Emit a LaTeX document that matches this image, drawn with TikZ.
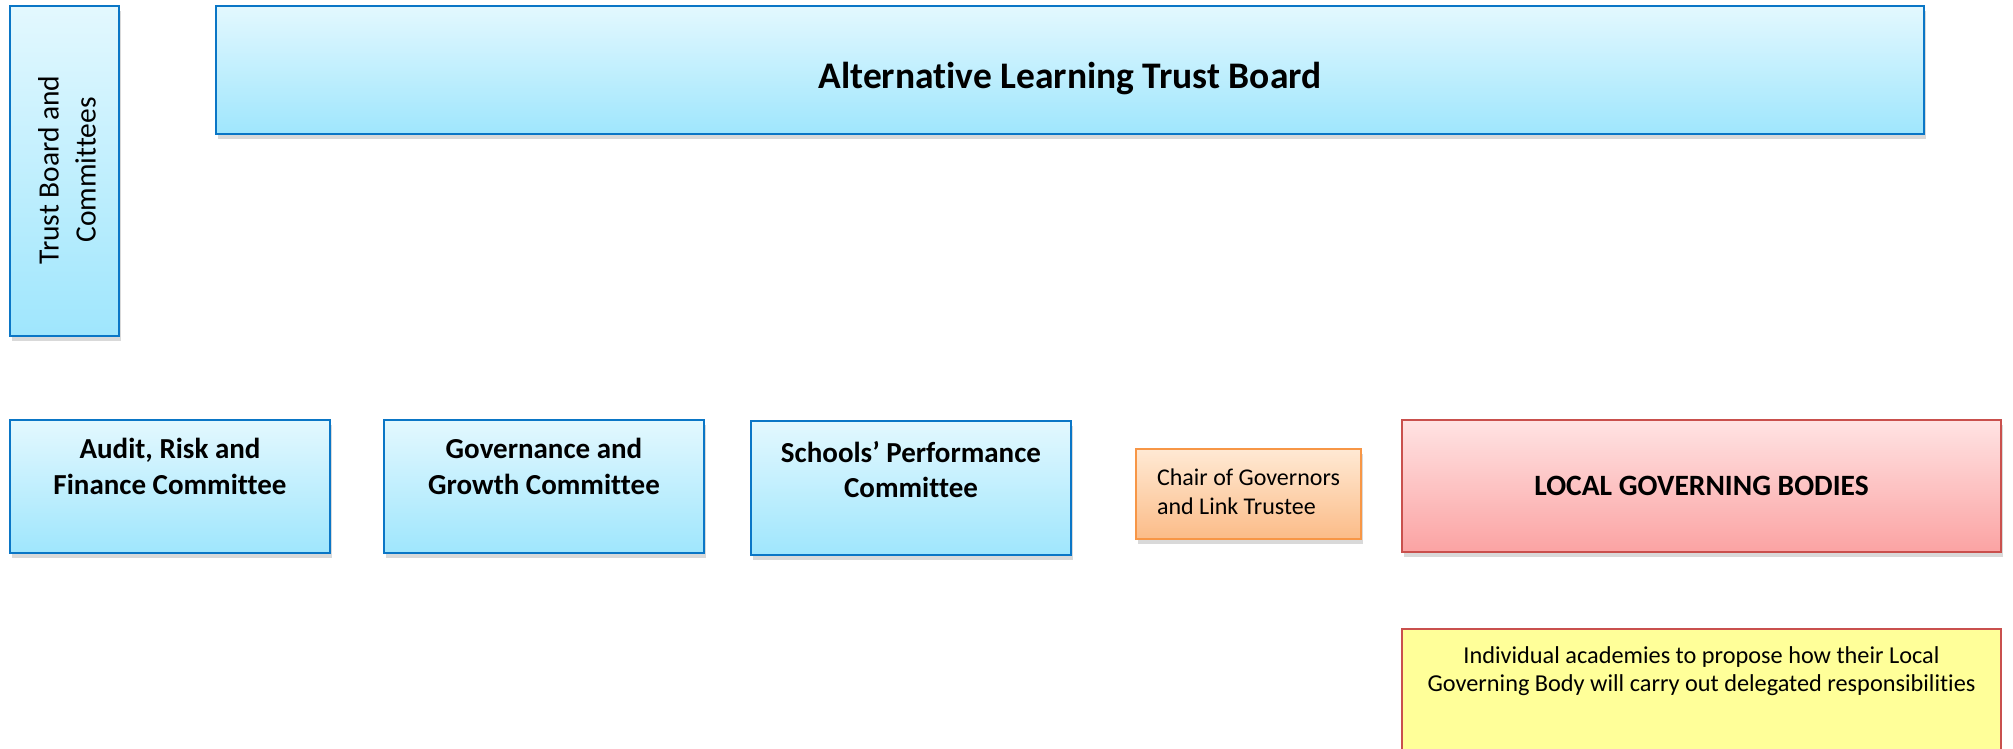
\documentclass[tikz,border=0pt]{standalone}
\usepackage{fontspec}
\setmainfont{Carlito}[Ligatures=NoCommon]
\usetikzlibrary{positioning,shadows}

\definecolor{blueline}{HTML}{0A76C6}
\definecolor{bluetop}{HTML}{E3F8FE}
\definecolor{bluebot}{HTML}{9FE6FD}
\definecolor{redline}{HTML}{C9504D}
\definecolor{pinktop}{HTML}{FFE3E3}
\definecolor{pinkbot}{HTML}{FBA3A3}
\definecolor{orangeline}{HTML}{F79646}
\definecolor{orangetop}{HTML}{FFE9D4}
\definecolor{orangebot}{HTML}{FBBC88}
\definecolor{yellowfill}{HTML}{FFFF99}

\tikzset{
  shade/.style={drop shadow={shadow xshift=2pt,shadow yshift=-5pt,opacity=0.25,fill=black!60}},
  bluebox/.style={draw=blueline,line width=2.5pt,top color=bluetop,bottom color=bluebot,shade,inner sep=0pt},
  pinkbox/.style={draw=redline,line width=2.5pt,top color=pinktop,bottom color=pinkbot,shade,inner sep=0pt},
  orangebox/.style={draw=orangeline,line width=2.5pt,top color=orangetop,bottom color=orangebot,shade,inner sep=0pt},
  notebox/.style={draw=redline,line width=2.5pt,fill=yellowfill,inner sep=0pt},
  boldtext/.style={inner sep=0pt,align=center,font=\fontsize{29}{35.5}\selectfont\bfseries},
  plaintext/.style={inner sep=0pt,align=center,font=\fontsize{24}{30}\selectfont}
}

\begin{document}
\begin{tikzpicture}[x=1pt,y=-1pt]
        \clip (0,0) rectangle (2013,749);

        % Board
        \node[bluebox,minimum width=109,minimum height=330] (side) at (64.5,171) {};
        \node[inner sep=0pt,align=center,rotate=90,font=\fontsize{29.5}{37}\selectfont] (sidetext) at (67,170) {Trust Board and\\Committees};
        \node[bluebox,minimum width=1708,minimum height=128] (board) at (1070,70) {};
        \node[inner sep=0pt,font=\fontsize{37.5}{44}\selectfont\bfseries] (boardtext) at (1070,79) {Alternative Learning Trust Board};

        % Committees
        \node[bluebox,minimum width=320,minimum height=133] (audit) at (170,486.5) {};
        \node[boldtext,below=19.5pt of audit.north] (audittext) {Audit, Risk and\\Finance Committee};
        \node[bluebox,minimum width=320,minimum height=133] (growth) at (544,486.5) {};
        \node[boldtext,below=19.5pt of growth.north] (growthtext) {Governance and\\Growth Committee};
        \node[bluebox,minimum width=320,minimum height=134] (schools) at (911,488) {};
        \node[boldtext,below=21pt of schools.north] (schoolstext) {Schools’ Performance\\Committee};

        % Local bodies
        \node[orangebox,minimum width=225,minimum height=90] (chair) at (1248.5,494) {};
        \node[plaintext,align=left,font=\fontsize{24}{28.5}\selectfont] (chairtext) at (1248.5,492) {Chair of Governors\\and Link Trustee};
        \node[pinkbox,minimum width=599,minimum height=132] (local) at (1701.5,486) {};
        \node[boldtext,font=\fontsize{29.5}{36}\selectfont\bfseries] (localtext) at (local.center) {LOCAL GOVERNING BODIES};
        \node[notebox,minimum width=599,minimum height=161] (note) at (1701.5,709.5) {};
        \node[plaintext,font=\fontsize{24.3}{28}\selectfont,below=19pt of note.north] (notetext) {Individual academies to propose how their Local\\Governing Body will carry out delegated responsibilities};
\end{tikzpicture}
\end{document}
